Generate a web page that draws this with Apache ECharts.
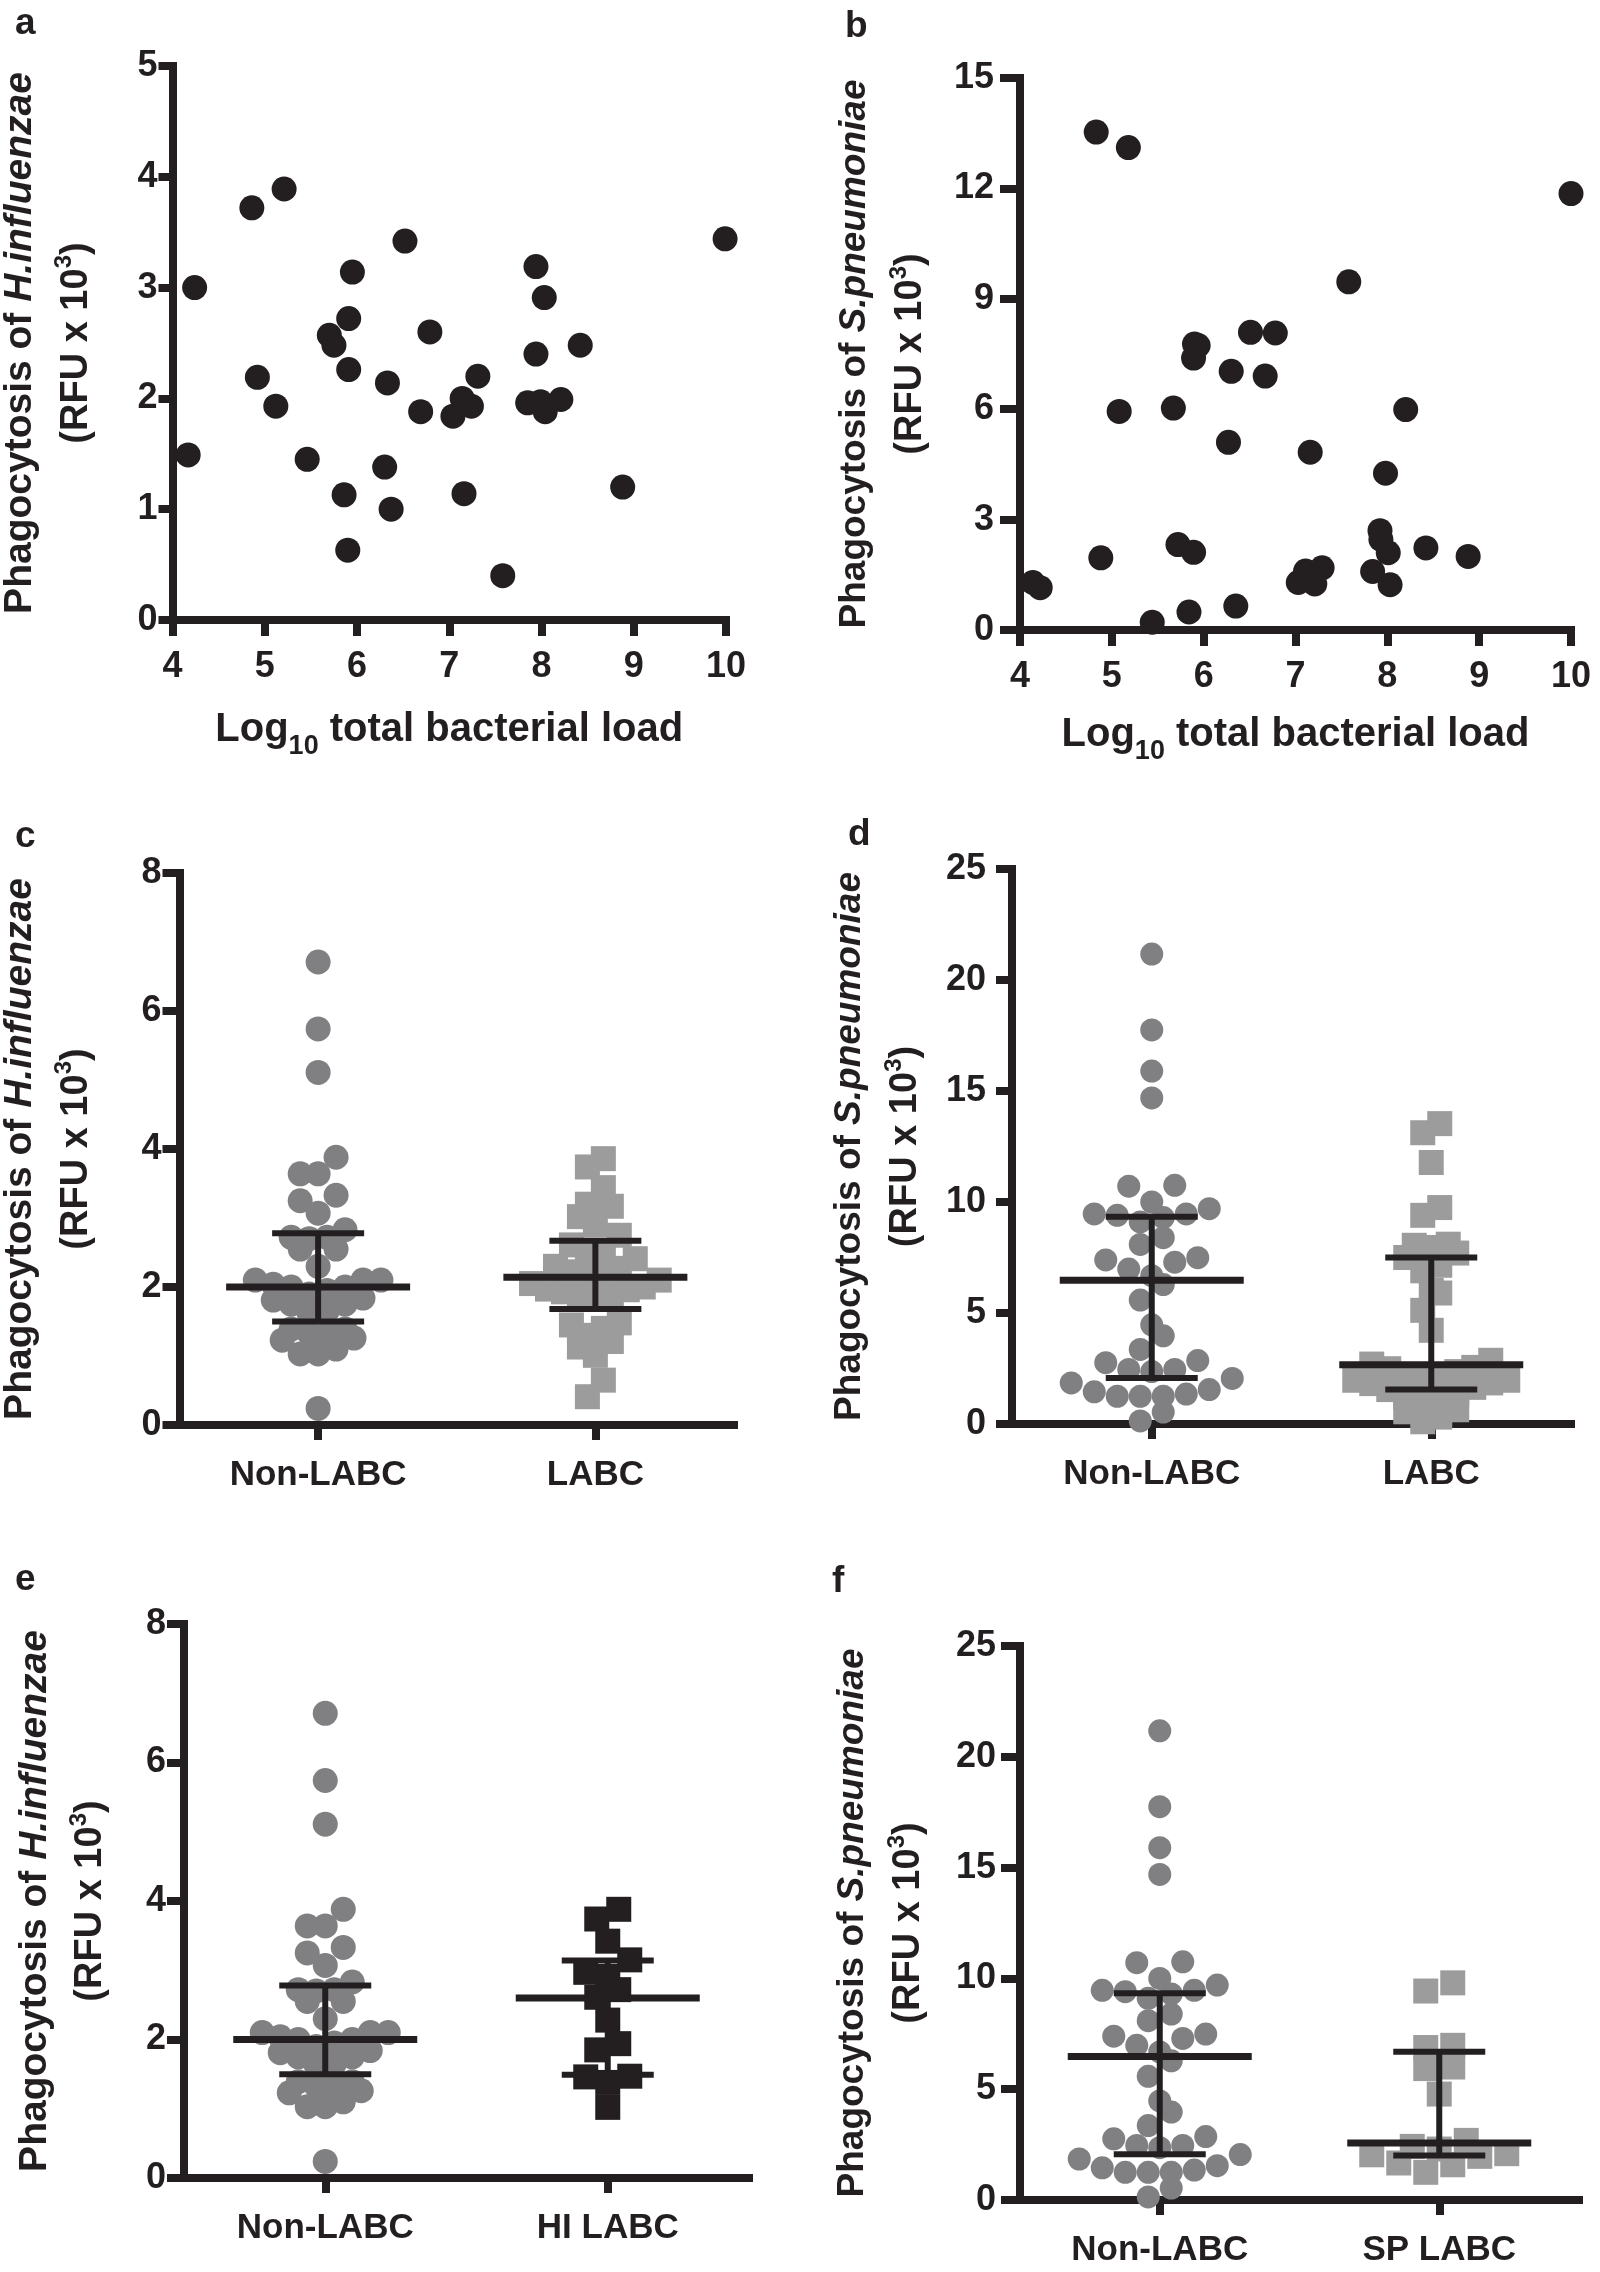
<!DOCTYPE html>
<html><head><meta charset="utf-8">
<script src="https://cdn.jsdelivr.net/npm/echarts@6/dist/echarts.min.js"></script>
<style>html,body{margin:0;padding:0;background:#fff}#c{width:1600px;height:2272px}</style>
</head><body><div id="c"></div>
<script>
// ---------------- DATA ----------------
// Panel a: Log10 total bacterial load vs H.influenzae phagocytosis
const aX = [4.17,4.24,4.86,5.21,4.92,5.12,5.46,5.70,5.75,5.91,5.95,5.91,5.86,5.90,6.30,6.37,6.33,6.52,6.79,6.69,7.04,7.14,7.24,7.31,7.16,7.58,7.85,7.94,7.94,8.03,7.99,8.04,8.21,8.42,8.88,9.99];
const aY = [1.49,3.00,3.72,3.89,2.19,1.93,1.45,2.57,2.48,2.72,3.14,2.26,1.13,0.63,1.38,1.00,2.14,3.42,2.60,1.88,1.84,2.00,1.93,2.20,1.14,0.40,1.96,3.19,2.40,2.91,1.97,1.88,1.99,2.48,1.20,3.44];
// Panel b: Log10 total bacterial load vs S.pneumoniae phagocytosis
const bX = [4.14,4.22,4.83,5.18,4.88,5.08,5.44,5.67,5.72,5.89,5.84,5.90,5.94,5.89,6.30,6.27,6.35,6.51,6.78,6.67,7.16,7.03,7.11,7.21,7.29,7.58,7.84,7.92,7.93,8.01,8.03,7.98,8.20,8.42,8.88,10.0];
const bY = [1.29,1.15,13.53,13.11,1.96,5.94,0.21,6.03,2.32,2.11,0.49,7.77,7.73,7.39,7.03,5.10,0.65,8.09,8.07,6.90,4.83,1.29,1.60,1.25,1.69,9.46,1.59,2.70,2.46,2.10,1.23,4.26,5.99,2.23,2.00,11.86];
// H.influenzae phagocytosis groups
const hiNonLabc = [6.71,5.74,5.11,3.88,3.64,3.64,3.33,3.25,3.07,2.83,2.72,2.72,2.70,2.55,2.55,2.30,2.10,2.10,2.10,2.04,2.00,2.00,1.95,1.90,1.84,1.81,1.75,1.75,1.65,1.62,1.39,1.39,1.33,1.33,1.26,1.23,1.10,1.03,1.03,0.24];
const hiLabc = [3.86,3.74,3.44,3.20,3.17,3.02,2.90,2.75,2.61,2.52,2.49,2.41,2.30,2.27,2.22,2.20,2.15,2.10,2.05,2.00,1.97,1.96,1.93,1.90,1.88,1.85,1.48,1.45,1.40,1.30,1.21,1.13,1.01,0.65,0.41];
const hiHiLabc = [3.88,3.74,3.42,3.15,2.97,2.91,2.72,2.61,2.28,1.94,1.85,1.47,1.46,1.38,1.02];
// S.pneumoniae phagocytosis groups
const spNonLabc = [21.17,17.75,15.90,14.69,10.75,10.71,10.00,9.70,9.46,9.46,9.40,9.30,9.10,8.39,8.09,7.49,7.39,7.29,6.98,6.68,6.28,5.58,4.47,3.97,3.36,2.86,2.76,2.46,2.46,2.36,2.05,1.85,1.55,1.45,1.35,1.25,1.25,1.25,0.54,0.14];
const spLabc = [13.53,13.12,11.78,9.75,9.40,8.10,8.05,7.95,7.70,7.50,7.15,6.90,6.02,5.90,5.12,4.22,2.87,2.70,2.55,2.49,2.36,2.20,2.05,2.04,1.97,1.97,1.85,1.82,1.65,1.55,1.35,1.21,1.21,1.15,0.64,0.55,0.31,0.10];
const spSpLabc = [9.80,9.43,6.98,6.88,6.00,5.93,4.78,2.69,2.42,2.30,2.09,2.04,1.97,1.67,1.59,1.25];
// median, lower quartile, upper quartile (as drawn)
const cStats = [[2.00,1.50,2.78],[2.14,1.68,2.67]];
const dStats = [[6.47,2.07,9.33],[2.67,1.55,7.50]];
const eStats = [[2.00,1.50,2.78],[2.60,1.49,3.14]];
const fStats = [[6.47,2.07,9.33],[2.57,2.01,6.69]];
// categories
const catsCD = ['Non-LABC','LABC'];
const catsE = ['Non-LABC','HI LABC'];
const catsF = ['Non-LABC','SP LABC'];
// axis ticks
const ticksLoad = {min:4, max:10, interval:1};
const ticksHiA = {min:0, max:5, interval:1};
const ticksSpB = {min:0, max:15, interval:3};
const ticksHi = {min:0, max:8, interval:2};
const ticksSp = {min:0, max:25, interval:5};

// ---------------- STYLE / LAYOUT ----------------
const FONT = "'Liberation Sans', Arial, Helvetica, sans-serif";
const INK = '#231f20';
const GRAY_C = '#808083';
const GRAY_S = '#9c9c9c';

const chart = echarts.init(document.getElementById('c'), null, {width:1600, height:2272});
const grids = [], xAxes = [], yAxes = [], series = [], graphics = [];

function yName(sp){ return '{n1|Phagocytosis of }{i1|' + sp + '}\n{n2|(RFU x 10}{s|3}{n2|)}'; }
function yRich(fs1){
  return {
    n1:{fontSize:fs1, fontWeight:'bold', fontFamily:FONT, color:INK, lineHeight:56, verticalAlign:'middle'},
    i1:{fontSize:fs1, fontWeight:'bold', fontStyle:'italic', fontFamily:FONT, color:INK, lineHeight:56, verticalAlign:'middle'},
    n2:{fontSize:38, fontWeight:'bold', fontFamily:FONT, color:INK, lineHeight:56, verticalAlign:'middle'},
    s:{fontSize:24, fontWeight:'bold', fontFamily:FONT, color:INK, lineHeight:24, padding:[0,0,24,0], verticalAlign:'middle'}
  };
}
const xRich = {
  n:{fontSize:40, fontWeight:'bold', fontFamily:FONT, color:INK, lineHeight:46, verticalAlign:'top'},
  sub:{fontSize:27, fontWeight:'bold', fontFamily:FONT, color:INK, lineHeight:27, padding:[23,0,0,0], verticalAlign:'top'}
};

function yAxisDef(g, t, sp, lay){
  return {type:'value', gridIndex:g, min:t.min, max:t.max, interval:t.interval,
    axisLine:{show:true, onZero:false, lineStyle:{color:INK, width:8, cap:'square'}},
    axisTick:{show:true, length:lay.tick, lineStyle:{color:INK, width:8}},
    axisLabel:{color:INK, fontSize:36, fontWeight:'bold', fontFamily:FONT, margin:lay.lm},
    splitLine:{show:false},
    name:yName(sp), nameLocation:'middle', nameRotate:90, nameGap:lay.gap,
    nameTextStyle:{align:'center', verticalAlign:'middle', rich:yRich(lay.fs)}};
}
function xValueDef(g, t, gap){
  return {type:'value', gridIndex:g, min:t.min, max:t.max, interval:t.interval,
    axisLine:{show:true, onZero:false, lineStyle:{color:INK, width:8, cap:'square'}},
    axisTick:{show:true, length:16, lineStyle:{color:INK, width:8}},
    axisLabel:{color:INK, fontSize:36, fontWeight:'bold', fontFamily:FONT, margin:29},
    splitLine:{show:false},
    name:'{n|Log}{sub|10}{n| total bacterial load}', nameLocation:'middle', nameGap:gap,
    nameTextStyle:{align:'center', verticalAlign:'top', rich:xRich}};
}
function xCatDef(g, cats){
  return {type:'category', gridIndex:g, data:cats,
    axisLine:{show:true, onZero:false, lineStyle:{color:INK, width:8, cap:'square'}},
    axisTick:{show:true, alignWithLabel:true, length:15, lineStyle:{color:INK, width:8}},
    axisLabel:{color:INK, fontSize:35, fontWeight:'bold', fontFamily:FONT, margin:33},
    splitLine:{show:false}};
}

// scatter panels
function scatterPanel(g, box, xs, ys, tx, ty, sp, lay){
  grids.push(box);
  const xi = xAxes.length; xAxes.push(xValueDef(g, tx, lay.xgap));
  yAxes.push(yAxisDef(g, ty, sp, lay));
  series.push({type:'scatter', xAxisIndex:xi, yAxisIndex:g, symbol:'circle', symbolSize:25,
    itemStyle:{color:INK, opacity:1}, data:xs.map((x,i)=>[x, ys[i]]), silent:true});
}

// Prism-like row swarm layout (pixel offsets computed from the values)
function swarm(values, catIdx, pxPerUnit, unitPx, step, bin){
  const order = values.map((v,i)=>i).sort((i,j)=>values[i]-values[j]);
  const rows = []; let cur = null;
  order.forEach(i=>{
    const y = values[i]*pxPerUnit;
    if(!cur || y-cur.start > bin){ cur = {start:y, ids:[]}; rows.push(cur); }
    cur.ids.push(i);
  });
  const out = [];
  rows.forEach(r=>{
    const n = r.ids.length, slots = [];
    for(let k=0;k<n;k++) slots.push((k-(n-1)/2)*step);
    slots.sort((p,q)=>Math.abs(p)-Math.abs(q) || p-q);
    r.ids.forEach((id,k)=>out.push([catIdx + slots[k]/unitPx, values[id]]));
  });
  return out;
}

function groupPanel(g, box, cats, groups, stats, ty, sp, lay, styles){
  grids.push(box);
  const ci = xAxes.length; xAxes.push(xCatDef(g, cats));
  const hi = xAxes.length; xAxes.push({type:'value', gridIndex:g, min:-0.5, max:1.5, show:false});
  yAxes.push(yAxisDef(g, ty, sp, lay));
  const pxPerUnit = box.height/(ty.max-ty.min);
  const unitPx = box.width/2;
  groups.forEach((vals, k)=>{
    const st = styles[k];
    series.push({type:'scatter', xAxisIndex:hi, yAxisIndex:g, symbol:st.symbol, symbolSize:st.size,
      itemStyle:{color:st.color, opacity:1}, silent:true, z:2,
      data:swarm(vals, k, pxPerUnit, unitPx, st.step, 19)});
  });
  series.push({type:'custom', xAxisIndex:ci, yAxisIndex:g, z:10, silent:true, clip:false,
    data:stats.map((s,k)=>[k, s[0], s[1], s[2]]),
    renderItem:function(params, api){
      const m = api.coord([api.value(0), api.value(1)]);
      const lo = api.coord([api.value(0), api.value(2)]);
      const up = api.coord([api.value(0), api.value(3)]);
      const x = m[0];
      const ln = (x1,y1,x2,y2,w)=>({type:'line', shape:{x1,y1,x2,y2}, style:{stroke:INK, lineWidth:w}});
      return {type:'group', children:[
        ln(x, up[1], x, lo[1], 6),
        ln(x-46, up[1], x+46, up[1], 6),
        ln(x-46, lo[1], x+46, lo[1], 6),
        ln(x-92, m[1], x+92, m[1], 7)
      ]};
    }});
}

scatterPanel(0, {left:171, top:66, width:555, height:554}, aX, aY, ticksLoad, ticksHiA, 'H.influenzae', {tick:14, lm:15, gap:124, fs:39, xgap:90});
scatterPanel(1, {left:1020, top:78, width:551, height:552}, bX, bY, ticksLoad, ticksSpB, 'S.pneumoniae', {tick:20, lm:26, gap:137, fs:37, xgap:85});

const circC = {symbol:'circle', size:25, color:GRAY_C, step:18};
const circD = {symbol:'circle', size:23, color:GRAY_C, step:23};
groupPanel(2, {left:178, top:873, width:556, height:552}, catsCD, [hiNonLabc, hiLabc], cStats, ticksHi, 'H.influenzae', {tick:17, lm:18, gap:131, fs:39},
  [circC, {symbol:'rect', size:25, color:GRAY_S, step:16}]);
groupPanel(3, {left:1012, top:869, width:559, height:555}, catsCD, [spNonLabc, spLabc], dStats, ticksSp, 'S.pneumoniae', {tick:16, lm:26, gap:134, fs:37},
  [circD, {symbol:'rect', size:25, color:GRAY_S, step:17}]);
groupPanel(4, {left:184, top:1624, width:565, height:554}, catsE, [hiNonLabc, hiHiLabc], eStats, ticksHi, 'H.influenzae', {tick:17, lm:18, gap:121, fs:39},
  [circC, {symbol:'rect', size:25, color:INK, step:22}]);
groupPanel(5, {left:1020, top:1646, width:559, height:554}, catsF, [spNonLabc, spSpLabc], fStats, ticksSp, 'S.pneumoniae', {tick:19, lm:24, gap:139, fs:37},
  [circD, {symbol:'rect', size:25, color:GRAY_S, step:27}]);

// panel letters
[['a',15,5],['b',845,8],['c',15,818],['d',848,816],['e',15,1561],['f',832,1563]].forEach(p=>{
  graphics.push({type:'text', x:p[1], y:p[2], silent:true,
    style:{text:p[0], font:'bold 37px ' + FONT, fill:INK, verticalAlign:'top', align:'left'}});
});

chart.setOption({
  animation:false, backgroundColor:'#ffffff',
  grid:grids, xAxis:xAxes, yAxis:yAxes, series:series, graphic:graphics
});
</script></body></html>
